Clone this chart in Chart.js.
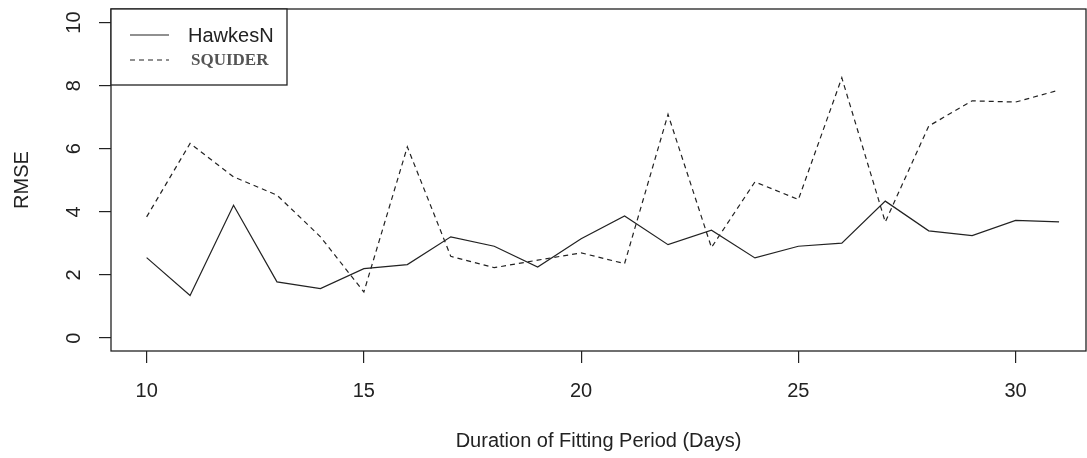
<!DOCTYPE html>
<html>
<head>
<meta charset="utf-8">
<script src="https://cdn.jsdelivr.net/npm/chart.js@4.4.0/dist/chart.umd.min.js"></script>
<style>
  body { margin: 0; background: #fff; }
  #wrap { width: 1087px; height: 458px; }
</style>
</head>
<body>
<div id="wrap"><canvas id="rmse"></canvas></div>
<script>
// fitting period, days
var days = [10, 11, 12, 13, 14, 15, 16, 17, 18, 19, 20, 21, 22, 23, 24, 25, 26, 27, 28, 29, 30, 31];
var hawkesN = [2.55, 1.35, 4.21, 1.78, 1.57, 2.20, 2.33, 3.21, 2.91, 2.25, 3.15, 3.87, 2.96, 3.42, 2.54, 2.91, 3.01, 4.34, 3.40, 3.25, 3.73, 3.68];
var squider = [3.84, 6.17, 5.11, 4.53, 3.21, 1.46, 6.06, 2.59, 2.23, 2.47, 2.70, 2.36, 7.09, 2.87, 4.95, 4.39, 8.25, 3.68, 6.72, 7.52, 7.48, 7.86];
var xTicks = [10, 15, 20, 25, 30];
var yTicks = [0, 2, 4, 6, 8, 10];

var ink = '#222';
var font = "'Liberation Sans', Arial, sans-serif";

function pts(vals) {
  return vals.map(function (v, i) { return { x: days[i], y: v }; });
}

// R style box round the plot and legend in the top left corner
var boxPlugin = {
  id: 'rbox',
  afterDatasetsDraw: function (chart) {
    var a = chart.chartArea, ctx = chart.ctx;
    ctx.save();
    ctx.strokeStyle = ink;
    ctx.lineWidth = 1.3;
    ctx.strokeRect(a.left, a.top, a.right - a.left, a.bottom - a.top);

    // legend
    var lx = a.left, ly = a.top, lw = 176, lh = 76;
    ctx.fillStyle = '#fff';
    ctx.fillRect(lx, ly, lw, lh);
    ctx.strokeRect(lx, ly, lw, lh);
    var sets = chart.data.datasets;
    var rows = [
      { y: ly + 26, font: '20px ' + font, color: ink, tx: lx + 77 },
      { y: ly + 51, font: 'bold 17px "Liberation Serif", "Times New Roman", serif', color: '#555', tx: lx + 80 }
    ];
    rows.forEach(function (r, i) {
      ctx.beginPath();
      ctx.setLineDash(sets[i].borderDash || []);
      ctx.lineWidth = sets[i].borderWidth;
      ctx.strokeStyle = sets[i].borderColor;
      ctx.moveTo(lx + 19, r.y);
      ctx.lineTo(lx + 58, r.y);
      ctx.stroke();
      ctx.setLineDash([]);
      ctx.font = r.font;
      ctx.fillStyle = r.color;
      ctx.textBaseline = 'middle';
      ctx.fillText(sets[i].label, r.tx, r.y + 1);
    });
    ctx.restore();
  }
};

new Chart(document.getElementById('rmse'), {
  type: 'line',
  data: {
    datasets: [{
      label: 'HawkesN',
      data: pts(hawkesN),
      borderColor: ink,
      borderWidth: 1.2,
      pointRadius: 0,
      tension: 0,
      fill: false
    }, {
      label: 'SQUIDER',
      data: pts(squider),
      borderColor: ink,
      borderWidth: 1.2,
      borderDash: [5, 4],
      pointRadius: 0,
      tension: 0,
      fill: false
    }]
  },
  options: {
    responsive: true,
    maintainAspectRatio: false,
    animation: false,
    layout: { padding: { top: 9, right: 1, left: 0, bottom: 0 } },
    plugins: {
      legend: { display: false },
      tooltip: { enabled: false }
    },
    scales: {
      x: {
        type: 'linear',
        min: 9.18,
        max: 31.62,
        afterBuildTicks: function (s) { s.ticks = xTicks.map(function (v) { return { value: v }; }); },
        afterFit: function (s) { s.height = 107; s.paddingLeft = 0; s.paddingRight = 0; },
        grid: { drawOnChartArea: false, drawTicks: true, tickLength: 12, color: ink, lineWidth: 1.2 },
        border: { display: false },
        ticks: { color: ink, font: { family: font, size: 20 }, padding: 16, maxRotation: 0 },
        title: { display: true, text: 'Duration of Fitting Period (Days)', color: ink, font: { family: font, size: 20 }, padding: { top: 0, bottom: 5 } }
      },
      y: {
        min: -0.41,
        max: 10.43,
        afterBuildTicks: function (s) { s.ticks = yTicks.map(function (v) { return { value: v }; }); },
        afterFit: function (s) { s.width = 111; s.paddingTop = 0; s.paddingBottom = 0; },
        grid: { drawOnChartArea: false, drawTicks: true, tickLength: 12, color: ink, lineWidth: 1.2 },
        border: { display: false },
        ticks: { color: ink, font: { family: font, size: 20 }, padding: 13, minRotation: 90, maxRotation: 90, crossAlign: 'center' },
        title: { display: true, text: 'RMSE', color: ink, font: { family: font, size: 20 }, padding: { top: 10, bottom: 0 } }
      }
    }
  },
  plugins: [boxPlugin]
});
</script>
</body>
</html>
